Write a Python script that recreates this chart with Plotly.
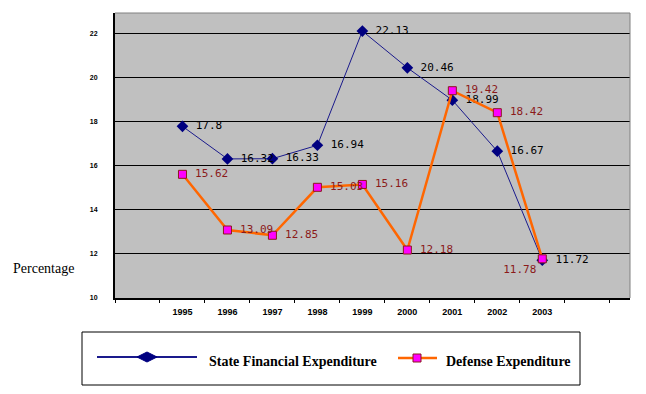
import plotly.graph_objects as go

years = [1995, 1996, 1997, 1998, 1999, 2000, 2001, 2002, 2003]
state_fin = [17.8, 16.32, 16.33, 16.94, 22.13, 20.46, 18.99, 16.67, 11.72]
defense = [15.62, 13.09, 12.85, 15.03, 15.16, 12.18, 19.42, 18.42, 11.78]
y_ticks = [10, 12, 14, 16, 18, 20, 22]

label_font = "DejaVu Sans Mono"
OFF = 8  # page body margin
W, H = 646 - OFF, 394 - OFF
ML, MR, MT, MB = 115 - OFF, 16, 13 - OFF, 96
PW, PH = W - ML - MR, H - MT - MB


def px(x):
    return (x - OFF - ML) / PW


def py(y):
    return (H - MB - (y - OFF)) / PH


fig = go.Figure()
fig.add_trace(go.Scatter(
    x=years, y=state_fin, name="State Financial Expenditure",
    mode="lines+markers+text",
    line=dict(color="#1a1a8c", width=1),
    marker=dict(symbol="diamond", size=9, color="#000080"),
    text=[" " + str(v) for v in state_fin],
    textposition="middle right",
    textfont=dict(family=label_font, size=11, color="#000000"),
    cliponaxis=False,
))
def_pos = ["middle right"] * 8 + ["bottom left"]
fig.add_trace(go.Scatter(
    x=years, y=defense, name="Defense Expenditure",
    mode="lines+markers+text",
    line=dict(color="#FF6600", width=2.5),
    marker=dict(symbol="square", size=8, color="#FF00FF",
                line=dict(color="#8B1A1A", width=1)),
    text=[" " + str(v) if i < 8 else str(v) for i, v in enumerate(defense)],
    textposition=def_pos,
    textfont=dict(family=label_font, size=11, color="#8B1A1A"),
    cliponaxis=False,
))

# manual legend
ly = 357
dcx, dw, dh = 147, 20, 10
diamond_path = "M {} {} L {} {} L {} {} L {} {} Z".format(
    px(dcx - dw / 2), py(ly), px(dcx), py(ly - dh / 2),
    px(dcx + dw / 2), py(ly), px(dcx), py(ly + dh / 2))
sq = 4
shapes = [
    dict(type="line", xref="paper", yref="paper", x0=0, x1=1, y0=1, y1=1,
         line=dict(color="#808080", width=1)),
    dict(type="line", xref="paper", yref="paper", x0=1, x1=1, y0=0, y1=1,
         line=dict(color="#808080", width=1)),
    dict(type="rect", xref="paper", yref="paper", x0=px(82), x1=px(580),
         y0=py(385), y1=py(332), line=dict(color="black", width=1),
         fillcolor="white", layer="below"),
    dict(type="line", xref="paper", yref="paper", x0=px(97), x1=px(197),
         y0=py(ly), y1=py(ly), line=dict(color="#1a1a8c", width=2)),
    dict(type="path", xref="paper", yref="paper", path=diamond_path,
         fillcolor="#000080", line=dict(color="#000080", width=1)),
    dict(type="line", xref="paper", yref="paper", x0=px(398), x1=px(437),
         y0=py(ly + 1), y1=py(ly + 1), line=dict(color="#FF6600", width=2.5)),
    dict(type="rect", xref="paper", yref="paper", x0=px(417 - sq), x1=px(417 + sq),
         y0=py(ly + 1 + sq), y1=py(ly + 1 - sq), fillcolor="#FF00FF",
         line=dict(color="#8B1A1A", width=1)),
]

annotations = [
    dict(text="Percentage", xref="paper", yref="paper", x=px(43.5), y=py(268),
         xanchor="center", yanchor="middle", showarrow=False,
         font=dict(family="Liberation Serif", size=14, color="black")),
    dict(text="State Financial Expenditure", xref="paper", yref="paper",
         x=px(207), y=py(361), xanchor="left", yanchor="middle", showarrow=False,
         font=dict(family="Liberation Serif", size=14, color="black", weight="bold")),
    dict(text="Defense Expenditure", xref="paper", yref="paper",
         x=px(444), y=py(361), xanchor="left", yanchor="middle", showarrow=False,
         font=dict(family="Liberation Serif", size=14, color="black", weight="bold")),
]

fig.update_layout(
    width=W, height=H,
    margin=dict(l=ML, r=MR, t=MT, b=MB),
    paper_bgcolor="white",
    plot_bgcolor="#C0C0C0",
    showlegend=False,
    xaxis=dict(
        range=[1993.5, 2004.95],
        tickvals=years, ticktext=[str(y) for y in years],
        ticks="", showgrid=False, zeroline=False,
        showline=True, linecolor="black", linewidth=2,
        tickfont=dict(family="Liberation Sans", size=9, color="black", weight="bold"),
        ticklabelstandoff=4,
        minor=dict(tick0=1994.5, dtick=1, ticks="outside", ticklen=3,
                   tickcolor="black", showgrid=False),
    ),
    yaxis=dict(
        range=[10, 22.95],
        tickvals=y_ticks, ticktext=[str(v) for v in y_ticks],
        ticks="", showgrid=True, gridcolor="black", gridwidth=1,
        zeroline=False, showline=True, linecolor="black", linewidth=2,
        tickfont=dict(family="Liberation Sans", size=7, color="black", weight="bold"),
        ticklabelstandoff=14,
    ),
    shapes=shapes,
    annotations=annotations,
)

fig.write_html("out.html")
